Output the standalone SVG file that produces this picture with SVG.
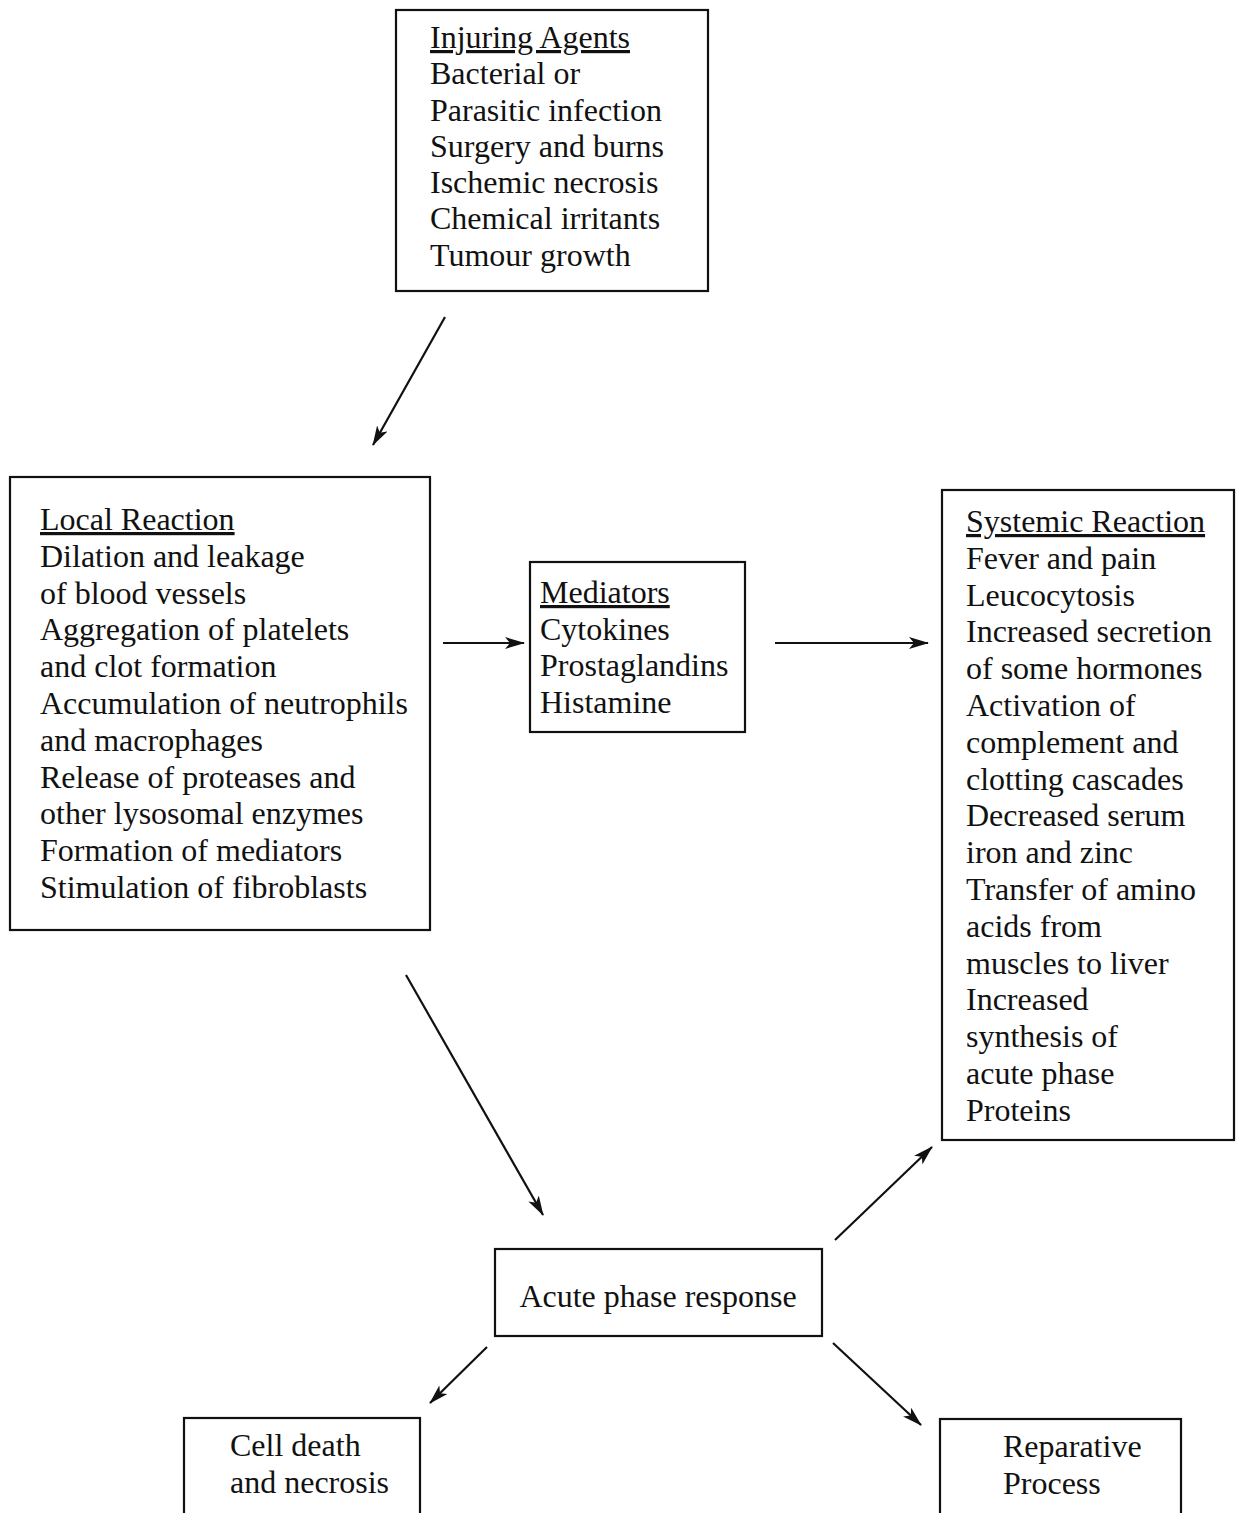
<svg xmlns="http://www.w3.org/2000/svg" width="1242" height="1513" viewBox="0 0 1242 1513">
<style>
.box{fill:none;stroke:#111;stroke-width:2.2}
.t{font-family:"Liberation Serif","Times New Roman",serif;font-size:32px;fill:#111}
.u{text-decoration:underline}
.c{stroke:#111;stroke-width:2.2;fill:none;marker-end:url(#ah)}
</style>
<defs>
<marker id="ah" viewBox="0 0 20 12" refX="19" refY="6" markerWidth="20" markerHeight="12" markerUnits="userSpaceOnUse" orient="auto">
<path d="M0,0 L20,6 L0,12 L5,6 Z" fill="#111"/>
</marker>
</defs>
<rect width="1242" height="1513" fill="#fff"/>
<g id="injuring-agents">
<rect class="box" x="396" y="10" width="312" height="281"/>
<text class="t"><tspan class="u" x="430" y="48">Injuring Agents</tspan><tspan x="430" y="84">Bacterial or</tspan><tspan x="430" y="121">Parasitic infection</tspan><tspan x="430" y="157">Surgery and burns</tspan><tspan x="430" y="193">Ischemic necrosis</tspan><tspan x="430" y="229">Chemical irritants</tspan><tspan x="430" y="266">Tumour growth</tspan></text>
</g>
<g id="local-reaction">
<rect class="box" x="10" y="477" width="420" height="453"/>
<text class="t"><tspan class="u" x="40" y="530">Local Reaction</tspan><tspan x="40" y="567">Dilation and leakage</tspan><tspan x="40" y="604">of blood vessels</tspan><tspan x="40" y="640">Aggregation of platelets</tspan><tspan x="40" y="677">and clot formation</tspan><tspan x="40" y="714">Accumulation of neutrophils</tspan><tspan x="40" y="751">and macrophages</tspan><tspan x="40" y="788">Release of proteases and</tspan><tspan x="40" y="824">other lysosomal enzymes</tspan><tspan x="40" y="861">Formation of mediators</tspan><tspan x="40" y="898">Stimulation of fibroblasts</tspan></text>
</g>
<g id="mediators">
<rect class="box" x="530" y="562" width="215" height="170"/>
<text class="t"><tspan class="u" x="540" y="603">Mediators</tspan><tspan x="540" y="640">Cytokines</tspan><tspan x="540" y="676">Prostaglandins</tspan><tspan x="540" y="713">Histamine</tspan></text>
</g>
<g id="systemic-reaction">
<rect class="box" x="942" y="490" width="292" height="650"/>
<text class="t"><tspan class="u" x="966" y="532">Systemic Reaction</tspan><tspan x="966" y="569">Fever and pain</tspan><tspan x="966" y="606">Leucocytosis</tspan><tspan x="966" y="642">Increased secretion</tspan><tspan x="966" y="679">of some hormones</tspan><tspan x="966" y="716">Activation of</tspan><tspan x="966" y="753">complement and</tspan><tspan x="966" y="790">clotting cascades</tspan><tspan x="966" y="826">Decreased serum</tspan><tspan x="966" y="863">iron and zinc</tspan><tspan x="966" y="900">Transfer of amino</tspan><tspan x="966" y="937">acids from</tspan><tspan x="966" y="974">muscles to liver</tspan><tspan x="966" y="1010">Increased</tspan><tspan x="966" y="1047">synthesis of</tspan><tspan x="966" y="1084">acute phase</tspan><tspan x="966" y="1121">Proteins</tspan></text>
</g>
<g id="acute-phase-response">
<rect class="box" x="495" y="1249" width="327" height="87"/>
<text class="t" x="658" y="1307" text-anchor="middle">Acute phase response</text>
</g>
<g id="cell-death">
<rect class="box" x="184" y="1418" width="236" height="100"/>
<text class="t"><tspan x="230" y="1456">Cell death</tspan><tspan x="230" y="1493">and necrosis</tspan></text>
</g>
<g id="reparative-process">
<rect class="box" x="940" y="1419" width="241" height="100"/>
<text class="t"><tspan x="1003" y="1457">Reparative</tspan><tspan x="1003" y="1494">Process</tspan></text>
</g>
<g id="connectors">
<line class="c" x1="445" y1="317" x2="373" y2="445"/>
<line class="c" x1="443" y1="643" x2="524" y2="643"/>
<line class="c" x1="775" y1="643" x2="928" y2="643"/>
<line class="c" x1="406" y1="975" x2="543" y2="1215"/>
<line class="c" x1="835" y1="1240" x2="932" y2="1147"/>
<line class="c" x1="487" y1="1347" x2="430" y2="1403"/>
<line class="c" x1="833" y1="1343" x2="921" y2="1425"/>
</g>
</svg>
